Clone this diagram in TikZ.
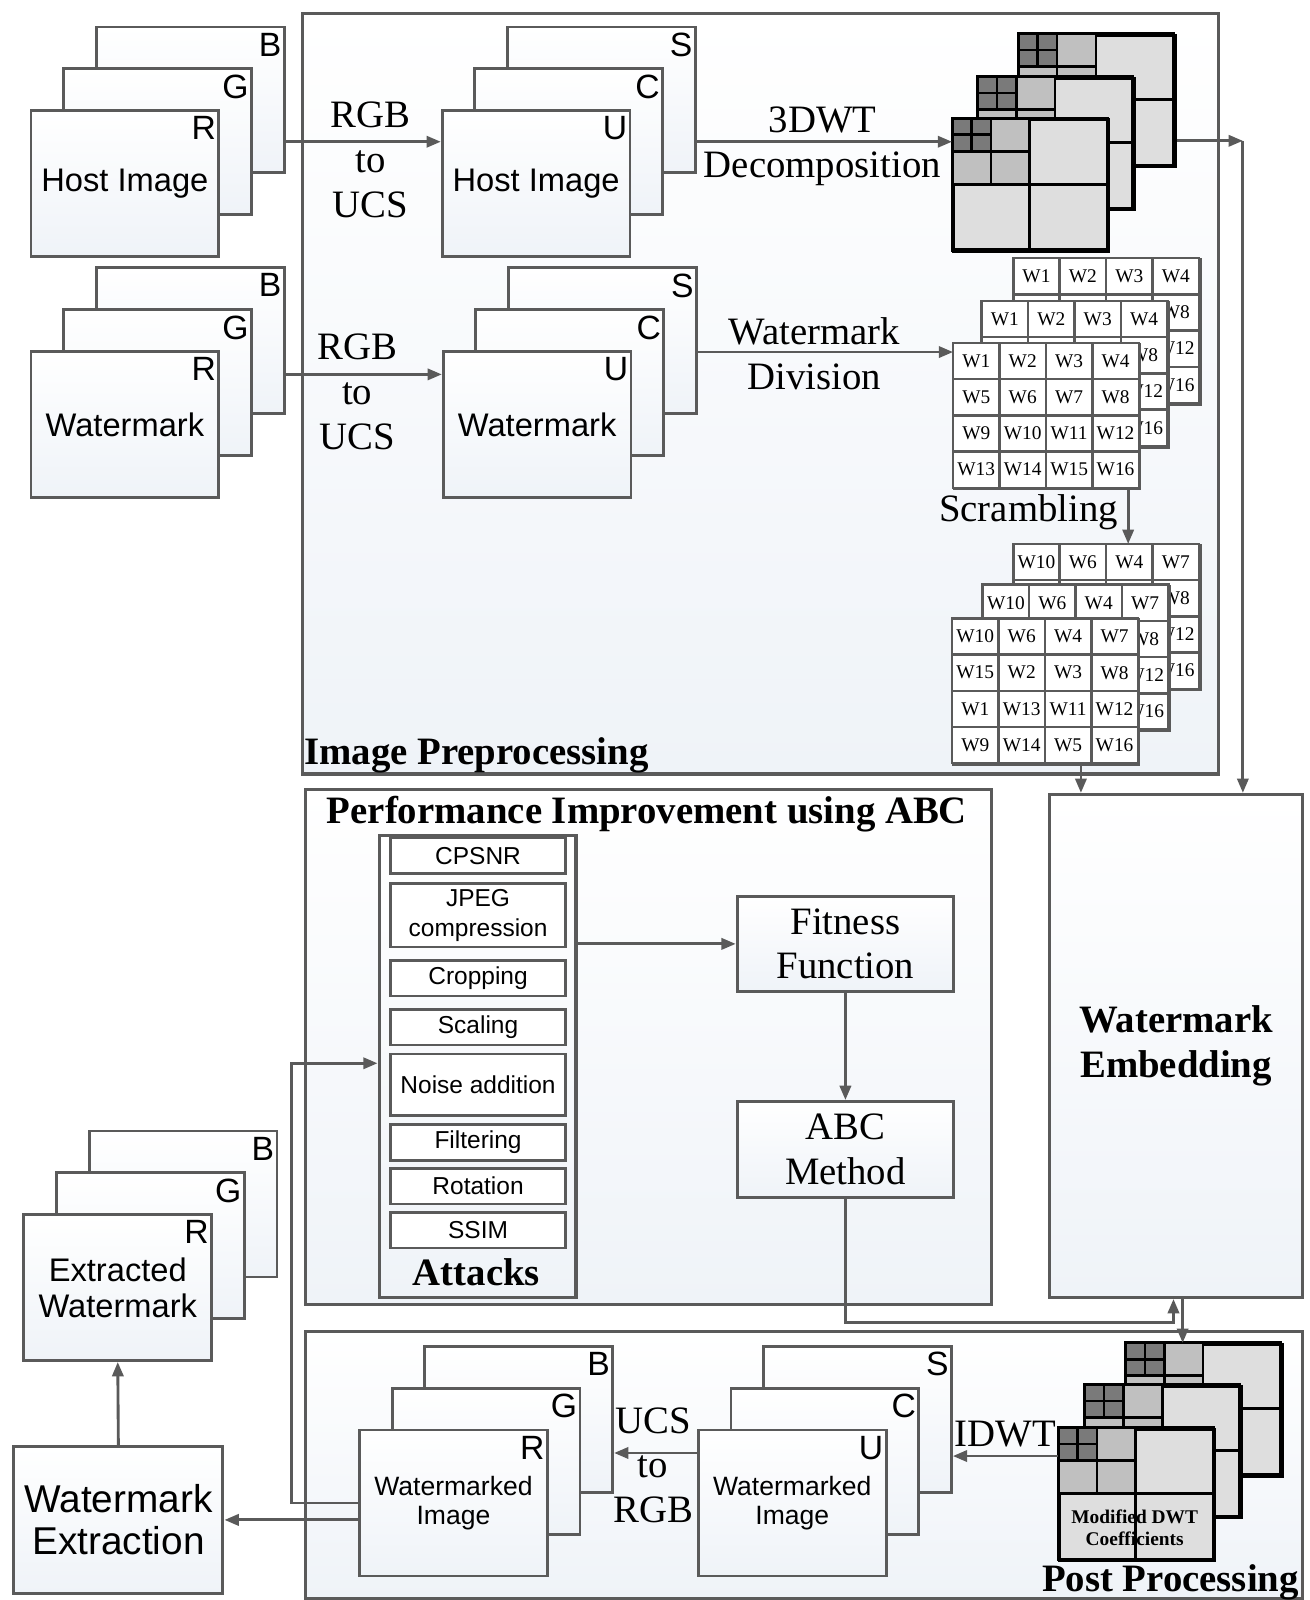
\documentclass[tikz,border=0pt]{standalone}
\usepackage{fontspec}
\setmainfont{Liberation Serif}
\setsansfont{Liberation Sans}
\usepackage{tikz}
\usetikzlibrary{arrows.meta, positioning, calc}
\definecolor{linegray}{RGB}{90,90,90}
\definecolor{boxbot}{RGB}{239,243,248}
\definecolor{dwtlight}{RGB}{222,222,222}
\definecolor{dwtmid}{RGB}{192,192,192}
\definecolor{dwtdark}{RGB}{122,122,122}
\tikzset{>={Triangle[length=14pt,width=11pt]}}
\tikzset{
  region/.style={draw=linegray, line width=3pt, top color=white, bottom color=boxbot,
    anchor=north west, inner sep=0pt, align=center},
  chlayer/.style={draw=linegray, line width=2.8pt, top color=white, bottom color=boxbot,
    minimum width=184pt, minimum height=143pt, inner sep=0pt, align=center, anchor=north west},
  chname/.style={anchor=north east, inner xsep=4pt, inner ysep=7pt,
    font=\sffamily\fontsize{33}{36}\selectfont},
  attitem/.style={draw=linegray, line width=2.6pt, fill=white, minimum width=171pt,
    inner sep=0pt, align=center, font=\sffamily\fontsize{24}{29}\selectfont},
  wgridbox/.style={draw=linegray, line width=2.6pt, fill=white, anchor=north west,
    minimum width=182pt, minimum height=142pt, inner sep=0pt},
  wcell/.style={draw=linegray, line width=2.4pt, fill=white, minimum width=45.5pt,
    minimum height=35.5pt, inner sep=0pt, font=\fontsize{19}{22}\selectfont},
  dwtbox/.style={draw=black, line width=3pt, fill=dwtlight, anchor=north west,
    minimum width=152pt, minimum height=129pt, inner sep=0pt},
  dwtline/.style={draw=black, line width=2.6pt},
  conn/.style={draw=linegray, line width=2.8pt, ->},
  lbl/.style={font=\fontsize{38}{44}\selectfont, align=center, inner sep=0pt},
  hdr/.style={font=\bfseries\fontsize{38}{44}\selectfont, align=center, inner sep=0pt},
  stxt/.style={font=\sffamily\fontsize{32}{36}\selectfont},
  xtxt/.style={font=\sffamily\fontsize{32}{35}\selectfont},
  otxt/.style={font=\sffamily\fontsize{26}{29}\selectfont},
}
% three stacked colour planes: name, x, y (front top left), back, mid, front, text, style
\newcommand{\chstack}[8]{%
  \node[chlayer] (#1back) at (#2+64,#3-82) {};
  \node[chname] at (#1back.north east) {#4};
  \node[chlayer] (#1mid) at (#2+32,#3-41) {};
  \node[chname] at (#1mid.north east) {#5};
  \node[chlayer, #8] (#1front) at (#2,#3) {#7};
  \node[chname] at (#1front.north east) {#6};
}
% 4x4 block grid (last argument 1: label every cell, 0: only the visible rim)
\newcommand{\wgrid}[5]{%
  \node[wgridbox] (#1) at (#2,#3) {};
  \foreach \w [count=\i from 0] in {#4} {
    \pgfmathtruncatemacro{\col}{mod(\i,4)}
    \pgfmathtruncatemacro{\row}{floor(\i/4)}
    \pgfmathtruncatemacro{\shown}{#5+(\row==0)+(\col==3)}
    \node[wcell] at (#2+22.75+45.5*\col, #3+17.75+35.5*\row) {\ifnum\shown>0 \w\fi};
  }
}
% 3-level DWT square
\newcommand{\dwtsq}[3]{%
  \node[dwtbox] (#1) at (#2,#3) {};
  \begin{scope}[shift={(#2,#3)}]
    \fill[dwtmid] (0,0) rectangle (76,64.5);
    \fill[dwtdark] (0,0) rectangle (38,32.25);
    \draw[dwtline] (76,0) -- (76,129) (0,64.5) -- (152,64.5)
      (38,0) -- (38,64.5) (0,32.25) -- (76,32.25)
      (19,0) -- (19,32.25) (0,16.1) -- (38,16.1);
    \draw[dwtline, line width=3pt] (0,0) rectangle (152,129);
  \end{scope}
}

\begin{document}
\begin{tikzpicture}[x=1pt, y=-1pt]
\useasboundingbox (0,0) rectangle (1283,1568);
\fill[white] (0,0) rectangle (1283,1568);

% regions
\node[region, minimum width=898pt, minimum height=745pt] (prep) at (295,12) {};
\node[region, minimum width=672pt, minimum height=505pt] (perf) at (298,772) {};
\node[region, minimum width=977pt, minimum height=262pt] (post) at (298,1303) {};
\node[region, minimum width=248pt, minimum height=493pt, hdr] (embed) at (1027,777) {Watermark\\Embedding};
\node[hdr, anchor=base west] (prepname) at (298,749) {Image Preprocessing};
\node[hdr, anchor=base] (perfname) at (634,807) {Performance Improvement using ABC};
\node[hdr, anchor=base east] (postname) at (1273,1560) {Post Processing};

% image preprocessing
\chstack{host}{29}{107}{B}{G}{R}{Host Image}{stxt}
\chstack{mark}{29}{343}{B}{G}{R}{Watermark}{stxt}
\chstack{hostucs}{432}{107}{S}{C}{U}{Host Image}{stxt}
\chstack{markucs}{433}{343}{S}{C}{U}{Watermark}{stxt}
\node[lbl] (conv1) at (363,157) {RGB\\to\\UCS};
\node[lbl] (conv2) at (350,384) {RGB\\to\\UCS};
\node[lbl] (decomp) at (806,143) {3DWT\\Decomposition};
\node[lbl] (divis) at (798,347) {Watermark\\Division};
\node[lbl, anchor=base] (scram) at (1008,511) {Scrambling};

\dwtsq{dwtback}{998}{33}
\dwtsq{dwtmid}{958}{75}
\dwtsq{dwtfront}{933}{116}

\wgrid{gridback}{993}{253}{W1,W2,W3,W4,W5,W6,W7,W8,W9,W10,W11,W12,W13,W14,W15,W16}{0}
\wgrid{gridmid}{962}{295}{W1,W2,W3,W4,W5,W6,W7,W8,W9,W10,W11,W12,W13,W14,W15,W16}{0}
\wgrid{gridfront}{934}{336}{W1,W2,W3,W4,W5,W6,W7,W8,W9,W10,W11,W12,W13,W14,W15,W16}{1}
\wgrid{sgridback}{993}{533}{W10,W6,W4,W7,W15,W2,W3,W8,W1,W13,W11,W12,W9,W14,W5,W16}{0}
\wgrid{sgridmid}{963}{573}{W10,W6,W4,W7,W15,W2,W3,W8,W1,W13,W11,W12,W9,W14,W5,W16}{0}
\wgrid{sgridfront}{933}{606}{W10,W6,W4,W7,W15,W2,W3,W8,W1,W13,W11,W12,W9,W14,W5,W16}{1}

% performance improvement
\node[region, minimum width=193pt, minimum height=453pt] (attacks) at (370,817) {};
\foreach \ya/\yb/\nm/\txt in {821/856/cpsnr/CPSNR, 866/928/jpeg/{JPEG\\compression},
    941/976/crop/Cropping, 989/1024/scale/Scaling, 1033/1093/noise/Noise addition,
    1102/1137/filt/Filtering, 1145/1180/rot/Rotation, 1188/1223/ssim/SSIM}
{
  \pgfmathsetmacro{\hh}{\yb-\ya}
  \node[attitem, minimum height=\hh pt] (\nm) at (468.5,\ya/2+\yb/2) {\txt};
}
\node[hdr, anchor=base] (attname) at (467,1260) {Attacks};
\node[region, lbl, minimum width=212pt, minimum height=93pt] (fitness) at (721,877) {Fitness\\Function};
\node[region, lbl, minimum width=212pt, minimum height=94pt] (abc) at (721,1078) {ABC\\Method};

% post processing
\dwtsq{pdwtback}{1103}{1316}
\dwtsq{pdwtmid}{1063}{1357}
\dwtsq{pdwtfront}{1037}{1399}
\node[font=\bfseries\fontsize{19}{21}\selectfont, align=center, inner sep=0pt] (modcoef) at (1112,1497) {Modified DWT\\Coefficients};
\chstack{outucs}{683}{1400}{S}{C}{U}{Watermarked\\Image}{otxt}
\chstack{outrgb}{351}{1400}{B}{G}{R}{Watermarked\\Image}{otxt}
\node[lbl, anchor=base] (idwt) at (985,1418) {IDWT};
\node[lbl] (conv3) at (640,1436) {UCS\\to\\RGB};

% extraction
\chstack{extr}{22}{1189}{B}{G}{R}{Extracted\\Watermark}{xtxt}
\node[region, minimum width=205pt, minimum height=144pt, font=\sffamily\fontsize{38}{41}\selectfont] (wmext) at (12,1416) {Watermark\\Extraction};

% connectors
\draw[conn] (hostback.east |- hostmid.east) -- (hostucsfront.west |- hostmid.east);
\draw[conn] ([yshift=8pt]markback.east |- markmid.east) -- ([yshift=8pt]markucsfront.west |- markmid.east);
\draw[conn] (hostucsback.east |- hostucsmid.east) -- (dwtfront.west |- hostucsmid.east);
\coordinate (divin) at ([yshift=-9pt]gridfront.north west);
\draw[conn] (markucsback.east |- divin) -- (divin);
\draw[conn] ([xshift=-13pt]gridfront.south east) -- ([xshift=-13pt]gridfront.south east |- sgridback.north);
\coordinate (dwtcorner) at (1218,138);
\draw[conn] (dwtback.east |- dwtcorner) -- (dwtcorner);
\draw[conn] (dwtcorner) -- (dwtcorner |- embed.north);
\draw[conn] ([xshift=34pt]sgridfront.south) -- ([xshift=34pt]sgridfront.south |- embed.north);
\draw[conn] (attacks.east |- fitness.west) -- (fitness.west);
\draw[conn] (fitness) -- (abc);
\coordinate (abcturn) at (1150,1296);
\draw[conn] (abc.south) |- (abcturn) -- (abcturn |- embed.south);
\draw[conn] ([xshift=9pt]abcturn |- embed.south) -- ([xshift=9pt]abcturn |- pdwtback.north);
\draw[conn] ([yshift=5pt]pdwtfront.west |- outucsmid.east) -- ([yshift=5pt]outucsback.east |- outucsmid.east);
\draw[conn] ([yshift=8pt]outucsfront.west |- outrgbmid.east) -- ([yshift=8pt]outrgbback.east |- outrgbmid.east);
\coordinate (fbk) at (286,1042);
\draw[conn] (outrgbfront.west) -| (fbk) -- (attacks.west |- fbk);
\draw[conn] (outrgbfront.west |- wmext.east) -- (wmext.east);
\draw[conn] (wmext.north) -- (extrfront.south);
\end{tikzpicture}
\end{document}
